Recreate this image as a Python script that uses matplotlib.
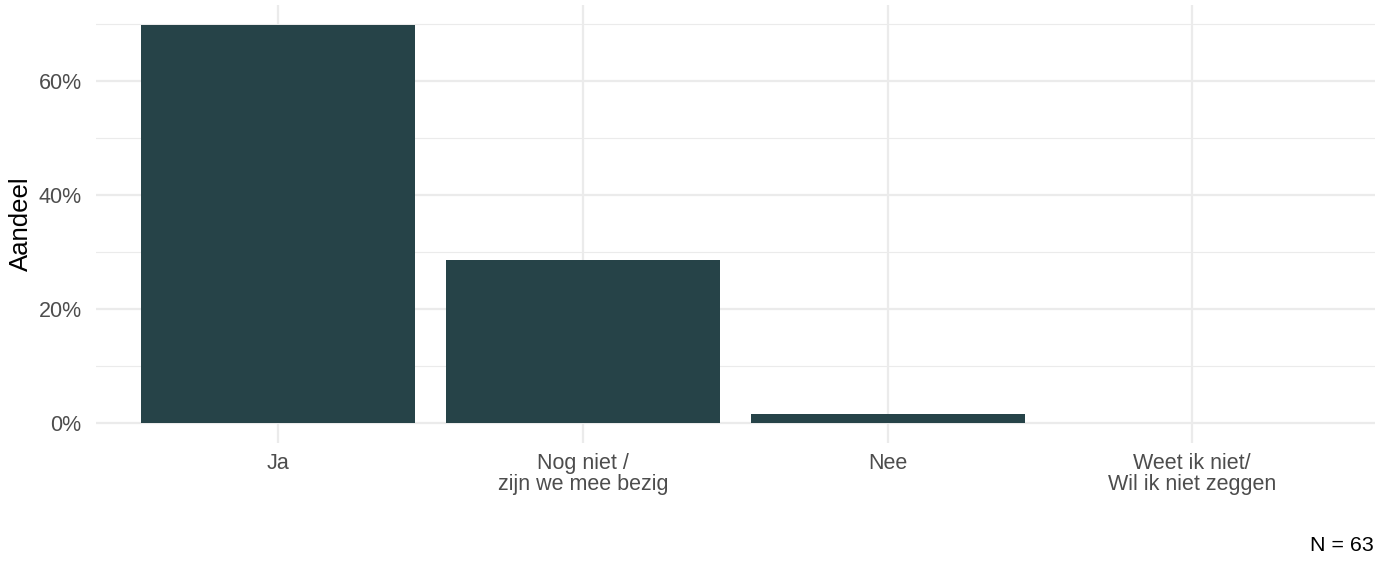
import matplotlib.pyplot as plt
from matplotlib.ticker import FuncFormatter, MultipleLocator

plt.rcParams['font.family'] = ['Liberation Sans', 'DejaVu Sans']

categories = ['Ja', 'Nog niet /\nzijn we mee bezig', 'Nee', 'Weet ik niet/\nWil ik niet zeggen']
counts = [44, 18, 1, 0]
n_total = 63
shares = [c / n_total for c in counts]

bar_color = '#264348'
grid_color = '#EBEBEB'
text_color = '#4D4D4D'

fig = plt.figure(figsize=(13.86, 5.62), dpi=100)
ax = fig.add_axes([0.069, 0.212, 0.923, 0.779])

x = list(range(len(categories)))
ax.bar(x, shares, width=0.9, color=bar_color, zorder=3)

ymax = max(shares)
ax.set_xlim(-0.6, len(categories) - 0.4)
ax.set_ylim(-0.05 * ymax, 1.05 * ymax)

ax.yaxis.set_major_locator(MultipleLocator(0.2))
ax.yaxis.set_minor_locator(MultipleLocator(0.1))
ax.yaxis.set_major_formatter(FuncFormatter(lambda v, p: f'{v * 100:.0f}%'))
ax.set_xticks(x)
ax.set_xticklabels(categories, linespacing=1.0)

ax.grid(axis='y', which='major', color=grid_color, linewidth=1.6, zorder=0)
ax.grid(axis='y', which='minor', color=grid_color, linewidth=0.8, zorder=0)
ax.grid(axis='x', which='major', color=grid_color, linewidth=1.6, zorder=0)

for s in ax.spines.values():
    s.set_visible(False)
ax.tick_params(axis='both', which='both', length=0, labelsize=15.5, labelcolor=text_color)
ax.tick_params(axis='x', pad=7)
ax.tick_params(axis='y', pad=10)

ax.set_ylabel('Aandeel', fontsize=18.5, color='black', labelpad=4)

fig.text(0.991, 0.03, f'N = {n_total}', ha='right', va='center', fontsize=15.4, color='black')

fig.savefig('out.png', dpi=100, facecolor='white')
